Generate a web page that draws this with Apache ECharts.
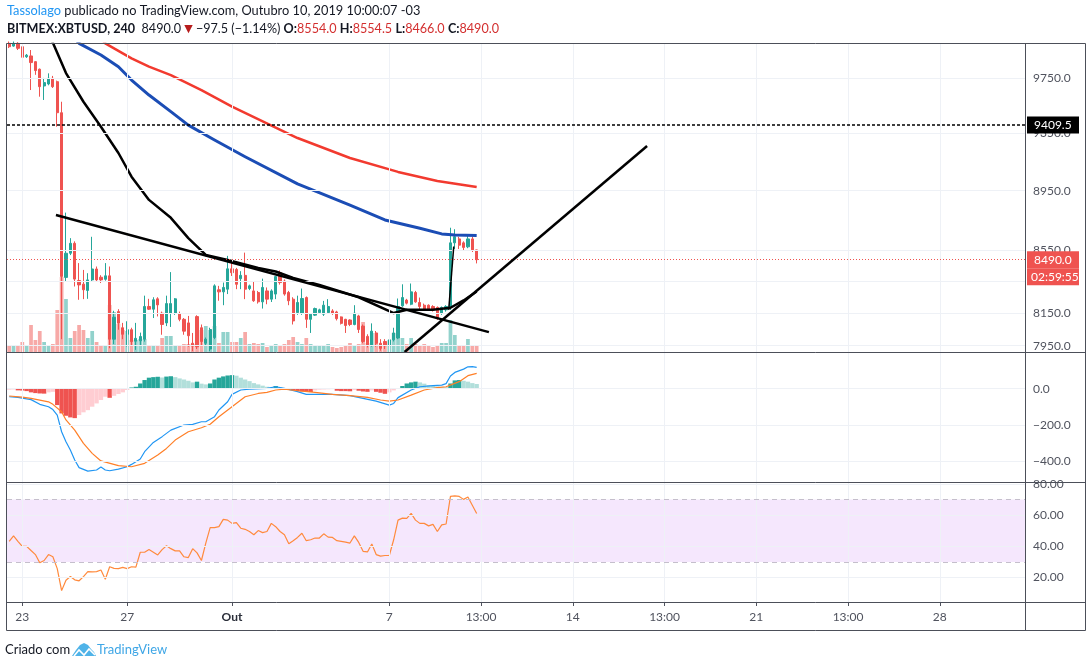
<!DOCTYPE html>
<html>
<head>
<meta charset="utf-8">
<title>BITMEX:XBTUSD, 240</title>
<script src="https://cdn.jsdelivr.net/npm/echarts@6.0.0/dist/echarts.min.js"></script>
<style>
  html, body { margin: 0; padding: 0; background: #fff; }
  #chart { width: 1092px; height: 667px; }
</style>
</head>
<body>
<div id="chart"></div>
<script>
// 4h bars, first slot = 22 Set 13:00 (-03), chart runs into empty future slots
var barCount = 233;
var tickIndex = [3, 27, 51, 87, 108, 129, 150, 171, 192, 213];
var tickLabels = ['23', '27', 'Out', '7', '13:00', '14', '13:00', '21', '13:00', '28'];

var openP = [10016, 9995, 10016, 9990, 9914, 9920, 9877, 9820, 9695, 9710,
  9752, 9727, 9499, 8376, 8532, 8597, 8356, 8333, 8293, 8360,
  8430, 8377, 8364, 8386, 7990, 8160, 8060, 8020, 8048, 7978,
  7980, 7990, 8192, 8175, 8240, 8150, 8090, 8150, 8150, 8148,
  8112, 8090, 7965, 8129, 8060, 7965, 7930, 8000, 8297, 8284,
  8301, 8431, 8427, 8368, 8389, 8305, 8290, 8280, 8221, 8290,
  8238, 8270, 8406, 8353, 8280, 8238, 8154, 8150, 8248, 8112,
  8138, 8154, 8144, 8154, 8164, 8158, 8127, 8112, 8108, 8080,
  8133, 8070, 8007, 7955, 8028, 7965, 7976, 7950, 7986, 7997,
  8196, 8232, 8206, 8280, 8217, 8200, 8200, 8192, 8186, 8150,
  8171, 8186, 8600, 8626, 8600, 8574, 8626, 8554];
var highP = [10030, 10030, 10025, 9995, 9935, 9965, 9880, 9825, 9755, 9789,
  9770, 9735, 9579, 8801, 8631, 8610, 8468, 8424, 8403, 8640,
  8446, 8390, 8468, 8446, 8165, 8175, 8090, 8100, 8060, 8090,
  8030, 8260, 8240, 8250, 8250, 8160, 8260, 8410, 8245, 8160,
  8120, 8133, 8028, 8137, 8080, 8000, 8060, 8332, 8322, 8343,
  8515, 8469, 8437, 8416, 8536, 8330, 8353, 8290, 8368, 8312,
  8300, 8385, 8420, 8363, 8290, 8250, 8260, 8305, 8255, 8150,
  8185, 8178, 8227, 8238, 8175, 8165, 8130, 8115, 8112, 8200,
  8140, 8080, 8020, 8087, 8040, 7990, 7990, 8000, 8060, 8242,
  8332, 8240, 8337, 8290, 8248, 8210, 8205, 8200, 8192, 8192,
  8200, 8700, 8690, 8640, 8610, 8650, 8640, 8554.5];
var lowP = [9980, 9990, 9965, 9865, 9905, 9665, 9778, 9616, 9592, 9700,
  9680, 9398, 7990, 8350, 8520, 8318, 8234, 8238, 8240, 8350,
  8350, 8340, 8355, 7935, 7960, 8048, 7990, 7945, 7950, 7925,
  7950, 7975, 8170, 8120, 8130, 8017, 8070, 8065, 8140, 8100,
  8017, 7944, 7917, 7930, 7950, 7950, 7917, 7990, 8228, 8200,
  8270, 8385, 8301, 8301, 8238, 8295, 8221, 8210, 8179, 8206,
  8220, 8238, 8330, 8260, 8200, 8080, 8140, 8140, 8059, 8028,
  8133, 8150, 8133, 8150, 8140, 8105, 8080, 8028, 8070, 8075,
  8028, 7965, 7940, 7945, 7944, 7920, 7930, 7935, 7976, 7990,
  8190, 8205, 8200, 8215, 8164, 8165, 8164, 8160, 8108, 8140,
  8160, 8170, 8560, 8560, 8550, 8565, 8540, 8466];
var closeP = [9990, 10016, 9978, 9910, 9926, 9870, 9810, 9690, 9720, 9752,
  9690, 9499, 8382, 8532, 8597, 8365, 8328, 8297, 8360, 8430,
  8360, 8360, 8386, 7990, 8125, 8088, 8020, 8048, 7975, 7995,
  8006, 8192, 8175, 8234, 8202, 8080, 8210, 8210, 8240, 8112,
  8039, 8011, 7948, 7944, 7976, 7990, 8049, 8322, 8284, 8312,
  8431, 8406, 8332, 8389, 8301, 8322, 8228, 8221, 8312, 8238,
  8290, 8381, 8343, 8270, 8228, 8102, 8217, 8242, 8112, 8144,
  8179, 8171, 8200, 8192, 8150, 8116, 8087, 8074, 8080, 8150,
  8049, 7976, 7955, 8039, 7965, 7934, 7950, 7986, 8028, 8192,
  8248, 8213, 8284, 8221, 8192, 8175, 8171, 8171, 8116, 8186,
  8192, 8600, 8641, 8585, 8570, 8626, 8554, 8490];
// volume, millions of contracts
var volume = [140, 140, 140, 200, 120, 540, 240, 420, 200, 120,
  160, 840, 1500, 1060, 280, 420, 540, 440, 280, 420,
  200, 140, 140, 940, 800, 560, 440, 420, 240, 240,
  260, 260, 140, 140, 140, 280, 320, 320, 120, 120,
  160, 160, 160, 240, 440, 520, 440, 520, 180, 400,
  400, 200, 200, 280, 400, 160, 180, 160, 180, 100,
  120, 160, 120, 160, 240, 300, 200, 160, 280, 160,
  140, 140, 140, 160, 100, 80, 100, 140, 180, 140,
  160, 600, 180, 380, 380, 140, 140, 240, 380, 640,
  280, 160, 280, 160, 140, 160, 140, 100, 140, 180,
  180, 640, 340, 120, 140, 260, 120, 140];

// moving averages, [bar, price]
var maBlack = [[8, 10150], [10, 10020], [13, 9791], [17, 9579], [21, 9398], [25, 9211], [28, 9046],
  [32, 8887], [37, 8766], [41, 8631], [45, 8521], [50, 8489], [57, 8437], [61, 8414], [65, 8373],
  [71, 8328], [80, 8250], [88, 8151], [91, 8171], [97, 8171], [101, 8184], [104, 8230], [107, 8286]];
var maBlue = [[14, 10090], [16, 10016], [21, 9927], [25, 9839], [28, 9739], [32, 9628], [37, 9507],
  [41, 9409], [47, 9303], [54, 9185], [66, 8996], [78, 8852], [86, 8752], [94, 8696], [99, 8659],
  [102, 8652], [107, 8648]];
var maRed = [[20, 10090], [22, 10016], [28, 9902], [32, 9839], [37, 9776], [44, 9665], [51, 9543],
  [66, 9317], [78, 9176], [89, 9079], [98, 9016], [107, 8975]];

var macdLine = [[0, -44], [2, -48], [5, -60], [7, -86], [9, -99], [10, -115], [11, -145], [12, -237],
  [13, -292], [14, -338], [15, -393], [16, -435], [18, -454], [20, -448], [21, -432], [22, -448],
  [23, -452], [25, -443], [27, -430], [28, -417], [30, -387], [31, -347], [33, -296], [35, -264],
  [37, -228], [40, -200], [42, -196], [44, -182], [45, -182], [47, -154], [48, -117], [50, -72],
  [51, -31], [53, -7], [55, -2], [59, 2], [61, 11], [63, 2], [66, -16], [68, -31], [74, -31],
  [78, -38], [81, -53], [84, -68], [87, -90], [88, -81], [89, -49], [92, -7], [94, 11], [97, 17],
  [99, 20], [100, 28], [101, 70], [102, 90], [104, 108], [105, 121], [106, 122], [107, 118]];
var signalLine = [[0, -40], [3, -46], [5, -53], [9, -72], [10, -86], [12, -127], [13, -172], [15, -228],
  [17, -301], [19, -356], [21, -398], [25, -424], [28, -430], [31, -411], [34, -365], [36, -329],
  [38, -283], [41, -237], [44, -215], [46, -196], [48, -154], [51, -99], [54, -44], [57, -26],
  [59, -20], [61, -7], [63, -2], [66, -11], [70, -20], [74, -31], [78, -38], [82, -48], [85, -62],
  [87, -68], [89, -62], [92, -35], [95, -7], [98, 6], [100, 11], [103, 39], [105, 72], [107, 85]];
var macdHist = [-5, -4, -9, -10, -13, -20, -24, -26, -27, -20,
  -17, -90, -136, -149, -158, -162, -145, -130, -118, -99,
  -81, -62, -44, -50, -39, -29, -20, -7, 7, 11,
  29, 48, 61, 64, 66, 62, 67, 69, 64, 57,
  51, 44, 35, 39, 28, 24, 29, 51, 61, 68,
  73, 75, 72, 61, 51, 42, 31, 24, 17, 11,
  7, 15, 9, 4, -2, -7, -13, -15, -17, -18,
  -9, -5, -4, -3, -2, -11, -13, -13, -14, -7,
  -11, -15, -17, -9, -17, -22, -28, -20, -9, 4,
  15, 29, 35, 39, 35, 28, 20, 17, 13, 11,
  9, 29, 46, 48, 44, 39, 31, 26];
var rsi = [43.2, 46.7, 43.2, 40.0, 40.0, 37.3, 34.7, 29.5, 30.9, 34.7,
  33.3, 25.7, 11.6, 18.3, 20.6, 18.5, 17.9, 20.6, 23.8, 23.6,
  23.8, 24.8, 18.9, 26.9, 25.9, 25.7, 26.5, 25.7, 26.9, 26.7,
  36.2, 36.2, 37.9, 36.2, 34.5, 37.9, 40.4, 38.5, 37.1, 37.1,
  33.3, 32.8, 38.5, 35.8, 30.9, 42.1, 52.0, 52.0, 52.6, 57.3,
  56.8, 54.7, 55.2, 51.6, 50.9, 49.5, 47.4, 50.1, 48.8, 49.5,
  54.7, 52.6, 49.5, 47.4, 41.7, 43.6, 45.7, 48.4, 43.6, 44.2,
  45.3, 45.3, 48.0, 45.9, 45.7, 43.6, 43.2, 42.7, 42.1, 46.7,
  42.5, 36.8, 36.4, 41.5, 34.7, 33.7, 34.1, 34.1, 44.2, 56.8,
  58.1, 57.9, 61.1, 56.8, 54.7, 54.7, 53.1, 54.1, 49.5, 53.7,
  54.3, 72.0, 72.4, 72.0, 70.1, 71.6, 66.3, 61.1];

var priceTicks = [9750, 9350, 8950, 8550, 8350, 8150, 7950];
var macdTicks = [0, -200, -400];
var rsiTicks = [80, 60, 40, 20];
var rsiBand = [30, 70];
var lastPrice = 8490;
var levelPrice = 9409.5;
var countdown = '02:59:55';

// drawn trendlines, [bar position, price]
var trendDown = [[10.7, 8785], [109.8, 8033]];
var trendUp = [[90.5, 7912], [146, 9261]];
var trendShort = [[100.6, 8171], [101.75, 8576]];

var UP = '#26a69a', DOWN = '#ef5350';
var TXT = '#50535e';
var FONT = 'Lato';

var categories = [];
for (var i = 0; i < barCount; i++) categories.push(String(i));

function isTick(idx) {
  return tickIndex.indexOf(idx) >= 0;
}

function tickText(value, idx) {
  var k = tickIndex.indexOf(idx);
  if (k < 0) return '';
  return tickLabels[k] === 'Out' ? '{b|Out}' : tickLabels[k];
}

function minus(v, digits) {
  return (v < 0 ? '\u2212' : '') + Math.abs(v).toFixed(digits);
}

// horizontal grid + right side labels + vertical grid at the date ticks
function gridMarks(values, digits) {
  var data = values.map(function (v) {
    return { yAxis: v, label: { formatter: minus(v, digits) } };
  });
  tickIndex.forEach(function (k) {
    data.push({ xAxis: k, label: { show: false } });
  });
  return {
    symbol: 'none',
    silent: true,
    animation: false,
    lineStyle: { color: '#eef1f6', width: 1, type: 'solid' },
    label: { position: 'end', distance: 8, color: TXT, fontSize: 12, fontFamily: FONT },
    data: data
  };
}

function histColor(v, prev) {
  if (v >= 0) return v > prev ? '#26a69a' : '#b2dfdb';
  return v > prev ? '#ffcdd2' : '#ef5350';
}

function getOption() {
  var candles = openP.map(function (o, i) {
    return [o, closeP[i], lowP[i], highP[i]];
  });
  var vols = volume.map(function (v, i) {
    var up = closeP[i] >= openP[i];
    return { value: v, itemStyle: { color: up ? 'rgba(38,166,154,0.5)' : 'rgba(239,83,80,0.5)' } };
  });
  var hist = macdHist.map(function (v, i) {
    var prev = i > 0 ? macdHist[i - 1] : -Infinity;
    return { value: v, itemStyle: { color: histColor(v, prev) } };
  });

  var hiddenCat = function (g) {
    return {
      type: 'category', gridIndex: g, data: categories, boundaryGap: true,
      axisLine: { show: false }, axisTick: { show: false }, axisLabel: { show: false }, splitLine: { show: false }
    };
  };
  var hiddenVal = function (g, type, min, max) {
    return {
      type: type, gridIndex: g, min: min, max: max, position: 'right',
      axisLine: { show: false }, axisTick: { show: false }, axisLabel: { show: false }, splitLine: { show: false }
    };
  };

  var frame = '#4c4f59';
  var graphic = [];
  [43.5, 352.5, 482.5, 602.5, 630.5].forEach(function (y) {
    graphic.push({ type: 'line', silent: true, z: 50, shape: { x1: 6.5, y1: y, x2: 1085.5, y2: y }, style: { stroke: frame, lineWidth: 1 } });
  });
  [6.5, 1025.5, 1085.5].forEach(function (x) {
    graphic.push({ type: 'line', silent: true, z: 50, shape: { x1: x, y1: 43.5, x2: x, y2: 630.5 }, style: { stroke: frame, lineWidth: 1 } });
  });
  graphic.push({
    type: 'text', x: 7, y: 11, silent: true,
    style: {
      text: '{a|Tassolago} publicado no TradingView.com, Outubro 10, 2019 10:00:07 -03',
      font: '12.8px Lato', fill: '#131722', verticalAlign: 'middle',
      rich: { a: { font: '12.8px Lato', fill: '#2196f3' } }
    }
  });
  graphic.push({
    type: 'text', x: 7, y: 29, silent: true,
    style: {
      text: '{b|BITMEX:XBTUSD, 240}  8490.0 {t|\u25BC} \u221297.5 (\u22121.14%) {b|O:}{r|8554.0} {b|H:}{r|8554.5} {b|L:}{r|8466.0} {b|C:}{r|8490.0}',
      font: '12.6px Lato', fill: '#131722', verticalAlign: 'middle',
      rich: {
        b: { font: 'bold 12.6px Lato', fill: '#131722' },
        r: { font: '12.6px Lato', fill: '#d32f2f' },
        t: { font: '11px "DejaVu Sans"', fill: '#b71c1c' }
      }
    }
  });
  graphic.push({
    type: 'text', x: 5, y: 650, silent: true,
    style: { text: 'Criado com', font: '13px Lato', fill: '#131722', verticalAlign: 'middle' }
  });
  graphic.push({
    type: 'polygon', silent: true,
    shape: { points: [[72, 656], [76, 650], [80, 645], [84, 643], [88, 645], [91, 649], [94, 652], [96, 656]] },
    style: { fill: '#4fb3e8' }
  });
  graphic.push({
    type: 'polyline', silent: true,
    shape: { points: [[74, 656], [79, 650], [84, 655], [89, 649], [95, 655]] },
    style: { stroke: '#fff', lineWidth: 1.6, fill: null }
  });
  graphic.push({
    type: 'text', x: 97, y: 650, silent: true,
    style: { text: 'TradingView', font: '13px Lato', fill: '#3ea6e6', verticalAlign: 'middle' }
  });

  var trendStyle = function (w) {
    return { color: '#000', width: w };
  };

  return {
    animation: false,
    backgroundColor: '#ffffff',
    graphic: graphic,
    grid: [
      { left: 7, top: 44, width: 1018, height: 308, outerBoundsMode: 'none' },
      { left: 7, top: 353, width: 1018, height: 129, outerBoundsMode: 'none' },
      { left: 7, top: 483, width: 1018, height: 119, outerBoundsMode: 'none' }
    ],
    xAxis: [
      hiddenCat(0),
      hiddenCat(1),
      {
        type: 'category', gridIndex: 2, data: categories, boundaryGap: true,
        axisLine: { show: false },
        axisTick: { show: true, alignWithLabel: true, length: 4, interval: isTick, lineStyle: { color: TXT } },
        axisLabel: {
          interval: isTick, formatter: tickText, margin: 9, color: TXT, fontSize: 12, fontFamily: FONT,
          rich: { b: { fontWeight: 'bold', color: '#2a2e39', fontSize: 12, fontFamily: FONT } }
        },
        splitLine: { show: false }
      },
      {
        type: 'value', gridIndex: 0, min: -0.5, max: barCount - 0.5, show: false,
        splitLine: { show: false }
      }
    ],
    yAxis: [
      hiddenVal(0, 'log', 7912, 10011),
      hiddenVal(0, 'value', 0, 6160),
      hiddenVal(1, 'value', -514, 197),
      hiddenVal(2, 'value', 4.3, 80.6)
    ],
    series: [
      {
        name: 'priceGrid', type: 'line', data: [], xAxisIndex: 0, yAxisIndex: 0, z: 0,
        markLine: gridMarks(priceTicks, 1)
      },
      {
        name: 'Volume', type: 'bar', data: vols, xAxisIndex: 0, yAxisIndex: 1, z: 1,
        barCategoryGap: '15%'
      },
      {
        name: 'XBTUSD', type: 'candlestick', data: candles, xAxisIndex: 0, yAxisIndex: 0, z: 2,
        barWidth: '62%',
        itemStyle: { color: UP, color0: DOWN, borderColor: UP, borderColor0: DOWN, borderWidth: 1 }
      },
      {
        name: 'MA slow', type: 'line', data: maRed, xAxisIndex: 0, yAxisIndex: 0, z: 3,
        symbol: 'none', lineStyle: { color: '#f23a2f', width: 2.5, join: 'round' }
      },
      {
        name: 'MA mid', type: 'line', data: maBlue, xAxisIndex: 0, yAxisIndex: 0, z: 3,
        symbol: 'none', lineStyle: { color: '#1b4db5', width: 3, join: 'round' }
      },
      {
        name: 'MA fast', type: 'line', data: maBlack, xAxisIndex: 0, yAxisIndex: 0, z: 3,
        symbol: 'none', lineStyle: { color: '#000', width: 2.5, join: 'round' }
      },
      {
        name: 'levels', type: 'line', data: [], xAxisIndex: 0, yAxisIndex: 0, z: 6,
        markLine: {
          symbol: 'none', silent: true, animation: false,
          label: {
            position: 'end', distance: 2, fontSize: 12, fontFamily: FONT, color: '#fff',
            width: 41, padding: [2, 4, 1, 7], lineHeight: 14
          },
          data: [
            { yAxis: levelPrice, lineStyle: { color: '#000', width: 1.5, type: [3, 2] },
              label: { formatter: levelPrice.toFixed(1), backgroundColor: '#000' } },
            { yAxis: lastPrice, lineStyle: { color: DOWN, width: 1, type: [1, 2] },
              label: { formatter: lastPrice.toFixed(1), backgroundColor: DOWN } },
            { yAxis: lastPrice, lineStyle: { color: 'rgba(0,0,0,0)', width: 0 },
              label: { formatter: countdown, backgroundColor: DOWN, color: '#fff', offset: [0, 17], width: 45, padding: [2, 3, 1, 4] } }
          ]
        }
      },
      {
        name: 'trend down', type: 'line', data: trendDown, xAxisIndex: 3, yAxisIndex: 0, z: 5,
        symbol: 'none', lineStyle: trendStyle(2.5)
      },
      {
        name: 'trend up', type: 'line', data: trendUp, xAxisIndex: 3, yAxisIndex: 0, z: 5,
        symbol: 'none', lineStyle: trendStyle(2.5)
      },
      {
        name: 'trend short', type: 'line', data: trendShort, xAxisIndex: 3, yAxisIndex: 0, z: 5,
        symbol: 'none', lineStyle: trendStyle(1.5)
      },
      {
        name: 'macdGrid', type: 'line', data: [], xAxisIndex: 1, yAxisIndex: 2, z: 0,
        markLine: gridMarks(macdTicks, 1)
      },
      {
        name: 'Histogram', type: 'bar', data: hist, xAxisIndex: 1, yAxisIndex: 2, z: 1,
        barCategoryGap: '0%'
      },
      {
        name: 'MACD', type: 'line', data: macdLine, xAxisIndex: 1, yAxisIndex: 2, z: 3,
        symbol: 'none', lineStyle: { color: '#2196f3', width: 1.2 }
      },
      {
        name: 'Signal', type: 'line', data: signalLine, xAxisIndex: 1, yAxisIndex: 2, z: 3,
        symbol: 'none', lineStyle: { color: '#ff7f27', width: 1.2 }
      },
      {
        name: 'rsiGrid', type: 'line', data: [], xAxisIndex: 2, yAxisIndex: 3, z: 0,
        markArea: {
          silent: true,
          itemStyle: { color: '#f5e7fd' },
          data: [[{ yAxis: rsiBand[0] }, { yAxis: rsiBand[1] }]]
        },
        markLine: (function () {
          var m = gridMarks(rsiTicks, 2);
          rsiBand.forEach(function (b) {
            m.data.push({ yAxis: b, lineStyle: { color: '#c5bfcc', type: [5, 4], width: 1 }, label: { show: false } });
          });
          return m;
        })()
      },
      {
        name: 'RSI', type: 'line', data: rsi, xAxisIndex: 2, yAxisIndex: 3, z: 3,
        symbol: 'none', lineStyle: { color: '#ff8a3d', width: 1.2 }
      }
    ]
  };
}

var chart = echarts.init(document.getElementById('chart'));
chart.setOption(getOption());
</script>
</body>
</html>
